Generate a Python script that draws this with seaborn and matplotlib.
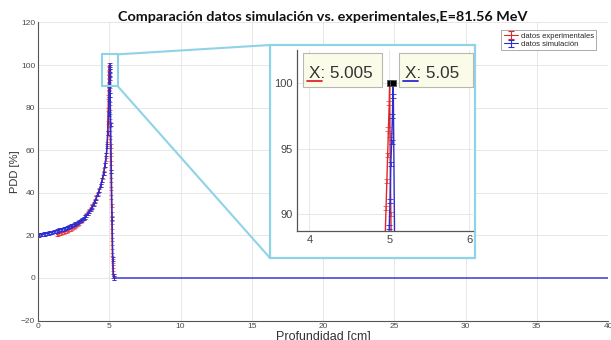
import numpy as np
import pandas as pd
import matplotlib
matplotlib.use("Agg")
import matplotlib.pyplot as plt
import seaborn as sns
from matplotlib.patches import Rectangle, ConnectionPatch
from matplotlib.lines import Line2D

# ---------------- data ----------------
sim_depth = [0.0, 0.1, 0.2, 0.3, 0.4, 0.5, 0.6, 0.7, 0.8, 0.9, 1.0, 1.1, 1.2, 1.3, 1.4,
             1.5, 1.6, 1.7, 1.8, 1.9, 2.0, 2.1, 2.2, 2.3, 2.4, 2.5, 2.6, 2.7, 2.8, 2.9,
             3.0, 3.1, 3.2, 3.3, 3.4, 3.5, 3.6, 3.7, 3.8, 3.9, 4.0, 4.1, 4.2, 4.3, 4.4,
             4.5, 4.6, 4.7, 4.8, 4.85, 4.9, 4.95, 4.98, 5.0, 5.01, 5.02, 5.03, 5.04,
             5.045, 5.05, 5.07, 5.1, 5.15, 5.2, 5.25, 5.3, 5.35, 40.0]
sim_pdd = [20.0, 20.1, 20.3, 20.4, 20.6, 20.7, 20.9, 21.0, 21.2, 21.4, 21.5, 21.7, 21.9,
           22.1, 22.3, 22.5, 22.7, 22.9, 23.1, 23.3, 23.6, 23.8, 24.1, 24.4, 24.7, 25.0,
           25.3, 25.7, 26.1, 26.5, 27.0, 27.5, 28.0, 28.7, 29.4, 30.2, 31.1, 32.1, 33.3,
           34.6, 36.0, 37.6, 39.3, 41.2, 43.4, 46.0, 49.0, 53.0, 58.0, 62.0, 68.0, 77.0,
           84.0, 89.0, 91.0, 93.8, 95.5, 97.5, 99.0, 100.0, 86.0, 72.0, 50.0, 28.0, 9.0,
           1.0, 0.0, 0.0]

exp_depth = [1.3, 1.4, 1.5, 1.6, 1.7, 1.8, 1.9, 2.0, 2.1, 2.2, 2.3, 2.4, 2.5, 2.6, 2.7,
             2.8, 2.9, 3.0, 3.1, 3.2, 3.3, 3.4, 3.5, 3.6, 3.7, 3.8, 3.9, 4.0, 4.1, 4.2,
             4.3, 4.4, 4.5, 4.55, 4.6, 4.65, 4.7, 4.75, 4.8, 4.85, 4.88, 4.9, 4.92, 4.94,
             4.95, 4.96, 4.97, 4.98, 4.99, 5.0, 5.005, 5.01, 5.02, 5.03, 5.04, 5.05, 5.06,
             5.07, 5.08, 5.09, 5.1, 5.11, 5.12, 5.13, 5.14, 5.15, 5.16, 5.17, 5.18, 5.19,
             5.2, 5.21, 5.22, 5.23, 5.24, 5.26, 5.28, 5.3]
exp_pdd = [20.5, 20.7, 20.9, 21.1, 21.3, 21.5, 21.8, 22.1, 22.4, 22.7, 23.0, 23.4, 23.8,
           24.2, 24.7, 25.2, 25.8, 26.4, 27.1, 27.9, 28.7, 29.6, 30.5, 31.5, 32.6, 33.8,
           35.1, 36.5, 38.0, 39.6, 41.4, 43.4, 46.0, 47.5, 49.0, 51.0, 53.0, 55.5, 58.0,
           63.0, 68.0, 73.0, 79.0, 85.0, 88.5, 90.5, 92.5, 94.5, 96.5, 98.5, 100.0, 96.0,
           90.0, 86.0, 82.0, 78.0, 74.0, 70.0, 66.0, 62.0, 58.0, 54.0, 50.0, 46.0, 42.0,
           38.0, 34.0, 30.0, 26.0, 22.0, 18.0, 14.5, 11.0, 8.0, 5.5, 2.5, 1.0, 0.0]

err_main = 0.8
err_inset = 0.15

series_labels = ["datos experimentales", "datos simulación"]
x_ticks = [0, 5, 10, 15, 20, 25, 30, 35, 40]
y_ticks = [-20, 0, 20, 40, 60, 80, 100, 120]
inset_x_ticks = [4, 5, 6]
inset_y_ticks = [90, 95, 100]
tip_x = [5.005, 5.05]
tip_y = [100.0, 100.0]
zoom_box_x = [4.5, 5.6]
zoom_box_y = [90.0, 105.0]

title_text = "Comparación datos simulación vs. experimentales,E=81.56 MeV"
xlabel_text = "Profundidad [cm]"
ylabel_text = "PDD [%]"

# ---------------- style ----------------
sns.set_style("white")
plt.rcParams["font.family"] = ["Liberation Sans", "DejaVu Sans"]

RED = "#e0262b"
BLUE = "#2b2bd2"
CYAN = "#8fd3e6"
W, H = 611.0, 340.0


def fx(px):
    return px / W


def fy(py):
    return 1.0 - py / H


exp_df = pd.DataFrame({"depth": exp_depth, "pdd": exp_pdd})
sim_df = pd.DataFrame({"depth": sim_depth, "pdd": sim_pdd})

fig = plt.figure(figsize=(6.11, 3.40), dpi=100)
ax = fig.add_axes([fx(38), fy(320.6), fx(608) - fx(38), fy(22.4) - fy(320.6)])


def draw_series(a, err, capsize, lw=1.0):
    sns.lineplot(data=exp_df, x="depth", y="pdd", ax=a, color=RED, lw=lw,
                 legend=False, estimator=None, sort=False)
    a.errorbar(exp_df["depth"], exp_df["pdd"], yerr=err, fmt="none",
               ecolor=RED, elinewidth=0.6, capsize=capsize, capthick=0.6, alpha=0.75)
    sns.lineplot(data=sim_df, x="depth", y="pdd", ax=a, color=BLUE, lw=lw,
                 legend=False, estimator=None, sort=False)
    sub = sim_df[sim_df["depth"] < x_ticks[-1]]
    a.errorbar(sub["depth"], sub["pdd"], yerr=err, fmt="none",
               ecolor=BLUE, elinewidth=0.6, capsize=capsize, capthick=0.6)


draw_series(ax, err_main, 1.6)

ax.set_xlim(x_ticks[0], x_ticks[-1])
ax.set_ylim(y_ticks[0], y_ticks[-1])
ax.set_xticks(x_ticks)
ax.set_yticks(y_ticks)
ax.grid(True, color="#e3e3e3", lw=0.6)
ax.set_axisbelow(True)
for s in ["top", "right"]:
    ax.spines[s].set_visible(False)
for s in ["left", "bottom"]:
    ax.spines[s].set_color("#555555")
    ax.spines[s].set_linewidth(0.8)
ax.tick_params(axis="both", direction="in", length=3, width=0.6, colors="#555555",
               labelsize=6, pad=2, labelcolor="#4a4a4a")

ax.set_title(title_text, fontsize=10.4, fontweight="bold", family=["Lato", "DejaVu Sans"],
             color="#111111", pad=1)
ax.set_xlabel(xlabel_text, fontsize=9, color="#333333")
ax.xaxis.set_label_coords(0.5, -0.036)
ax.set_ylabel(ylabel_text, fontsize=8, color="#333333")
ax.yaxis.set_label_coords(-0.031, 0.5)

# legend with errorbar handles
h_exp = ax.errorbar([np.nan], [np.nan], yerr=[1], fmt="-", color=RED, lw=0.8,
                    capsize=2, capthick=0.8)
h_sim = ax.errorbar([np.nan], [np.nan], yerr=[1], fmt="-", color=BLUE, lw=0.8,
                    capsize=2, capthick=0.8)
leg = ax.legend([h_exp, h_sim], series_labels, loc="upper right",
                bbox_to_anchor=(fx(596), fy(30)), bbox_transform=fig.transFigure,
                fontsize=5.5, frameon=True, fancybox=False, framealpha=1,
                edgecolor="#8a8a8a", borderpad=0.3, labelspacing=0.15,
                handlelength=1.8, handletextpad=0.4, borderaxespad=0)
leg.get_frame().set_linewidth(0.5)

# small zoom rectangle in data coords
ax.add_patch(Rectangle((zoom_box_x[0], zoom_box_y[0]), zoom_box_x[1] - zoom_box_x[0],
                       zoom_box_y[1] - zoom_box_y[0], fill=False, edgecolor=CYAN,
                       lw=1.5, zorder=6, clip_on=False))

# big frame (white background) in figure coords
ax.add_patch(Rectangle((fx(270), fy(258)), fx(475) - fx(270), fy(45) - fy(258),
                       transform=fig.transFigure, facecolor="white", edgecolor=CYAN,
                       lw=1.6, zorder=6, clip_on=False))

# connector lines
for (dx, dy), (px, py) in [((zoom_box_x[1], zoom_box_y[1]), (270, 45)),
                           ((zoom_box_x[1], zoom_box_y[0]), (270, 258))]:
    cp = ConnectionPatch(xyA=(dx, dy), coordsA=ax.transData,
                         xyB=(fx(px), fy(py)), coordsB=fig.transFigure,
                         color=CYAN, lw=1.5, zorder=6)
    fig.add_artist(cp)

# inset axes
axins = ax.inset_axes([fx(296.7), fy(230.7), fx(473) - fx(296.7), fy(50) - fy(230.7)],
                      transform=fig.transFigure, zorder=7)
draw_series(axins, err_inset, 2.5, lw=1.0)
axins.set_xlim(3.84, 6.05)
axins.set_ylim(88.75, 102.5)
axins.set_xticks(inset_x_ticks)
axins.set_yticks(inset_y_ticks)
axins.set_xlabel("")
axins.set_ylabel("")
axins.grid(True, color="#e3e3e3", lw=0.6)
axins.set_axisbelow(True)
for s in ["top", "right"]:
    axins.spines[s].set_visible(False)
for s in ["left", "bottom"]:
    axins.spines[s].set_color("#555555")
    axins.spines[s].set_linewidth(0.9)
axins.tick_params(axis="both", direction="in", length=4, width=0.7, colors="#555555",
                  labelsize=8, pad=3, labelcolor="#444444")
axins.plot(tip_x, tip_y, ls="none", marker="s", ms=5, mfc="black", mec="#555555",
           mew=0.6, zorder=10)

# data tips
tip_boxes = [(303, 382), (399, 473)]
tip_colors = [RED, BLUE]
for (x0, x1), xv, col in zip(tip_boxes, tip_x, tip_colors):
    fig.add_artist(Rectangle((fx(x0), fy(86.7)), fx(x1) - fx(x0), fy(52.7) - fy(86.7),
                             transform=fig.transFigure, facecolor="#fbfbea",
                             edgecolor="#b8b8b0", lw=0.8, zorder=8))
    label = f"X: {xv:g}"
    fig.text(fx(x0 + 6), fy(77.5), label, fontsize=12.3, color="#333333",
             va="baseline", ha="left", zorder=9)
    fig.add_artist(Line2D([fx(x0 + 4), fx(x0 + 19)], [fy(80.5), fy(80.5)],
                          transform=fig.transFigure, color=col, lw=1.3, zorder=9))

fig.savefig("out.png", dpi=100)
